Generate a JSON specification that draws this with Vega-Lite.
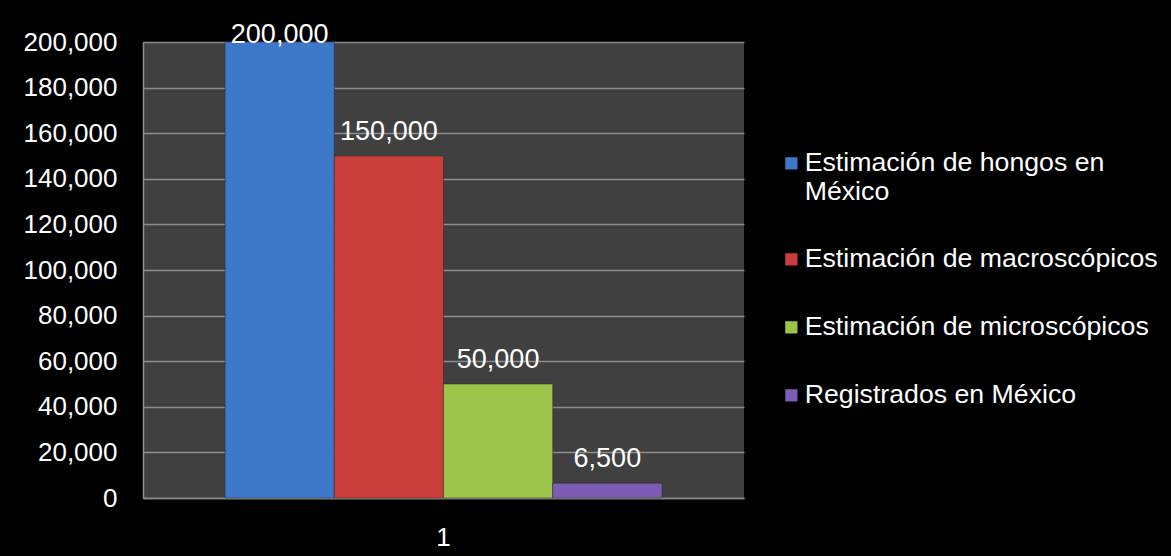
{
  "$schema": "https://vega.github.io/schema/vega-lite/v6.json",
  "autosize": {"type": "none"},
  "width": 601,
  "height": 456,
  "padding": {"left": 143, "top": 42, "right": 427, "bottom": 58},
  "background": "#000000",
  "config": {
    "font": "Liberation Sans",
    "view": {"fill": "#404040", "stroke": null},
    "axis": {"labelFont": "Liberation Sans", "labelColor": "#ffffff", "labelFontSize": 26, "ticks": false, "domainColor": "#8c8c8c", "domainWidth": 1.5, "gridColor": "#8c8c8c", "gridWidth": 1.5, "title": null}
  },
  "data": {
    "values": [
      {"cat": "1", "serie": "Estimación de hongos en México", "valor": 200000},
      {"cat": "1", "serie": "Estimación de macroscópicos", "valor": 150000},
      {"cat": "1", "serie": "Estimación de microscópicos", "valor": 50000},
      {"cat": "1", "serie": "Registrados en México", "valor": 6500}
    ]
  },
  "encoding": {
    "x": {"field": "cat", "type": "nominal", "scale": {"paddingInner": 0, "paddingOuter": 0.1877}, "axis": {"labelAngle": 0, "labelPadding": 26, "domain": true}},
    "xOffset": {"field": "serie", "type": "nominal", "sort": ["Estimación de hongos en México", "Estimación de macroscópicos", "Estimación de microscópicos", "Registrados en México"], "scale": {"paddingInner": 0, "paddingOuter": 0}},
    "y": {"field": "valor", "type": "quantitative", "scale": {"domain": [0, 200000]}, "axis": {"values": [0, 20000, 40000, 60000, 80000, 100000, 120000, 140000, 160000, 180000, 200000], "format": ",d", "labelPadding": 26, "grid": true, "domain": true}}
  },
  "layer": [
    {
      "mark": {"type": "bar", "stroke": "#2a2a2a", "strokeWidth": 0.5},
      "encoding": {
        "color": {
          "field": "serie", "type": "nominal",
          "sort": ["Estimación de hongos en México", "Estimación de macroscópicos", "Estimación de microscópicos", "Registrados en México"],
          "scale": {"range": ["#3d78c9", "#c93d3b", "#9cc34a", "#7d5cb3"]},
          "legend": {
            "orient": "none", "legendX": 635, "legendY": 108,
            "title": null, "symbolType": "square", "symbolSize": 150,
            "symbolStrokeWidth": 0, "symbolOpacity": 1,
            "labelColor": "#ffffff", "labelFont": "Liberation Sans", "labelFontSize": 26.7,
            "labelLimit": 500, "labelOffset": 0, "rowPadding": 40,
            "labelExpr": "datum.label == 'Estimación de hongos en México' ? ['\u2005Estimación de hongos en', 'México'] : datum.label"
          }
        }
      }
    },
    {
      "transform": [{"filter": "datum.valor < 200000"}],
      "mark": {"type": "text", "color": "#ffffff", "font": "Liberation Sans", "fontSize": 27, "baseline": "alphabetic", "dy": -16},
      "encoding": {"text": {"field": "valor", "type": "quantitative", "format": ",d"}}
    },
    {
      "transform": [{"filter": "datum.valor >= 200000"}],
      "mark": {"type": "text", "color": "#ffffff", "font": "Liberation Sans", "fontSize": 27, "baseline": "alphabetic", "dy": 1},
      "encoding": {"text": {"field": "valor", "type": "quantitative", "format": ",d"}}
    }
  ]
}
